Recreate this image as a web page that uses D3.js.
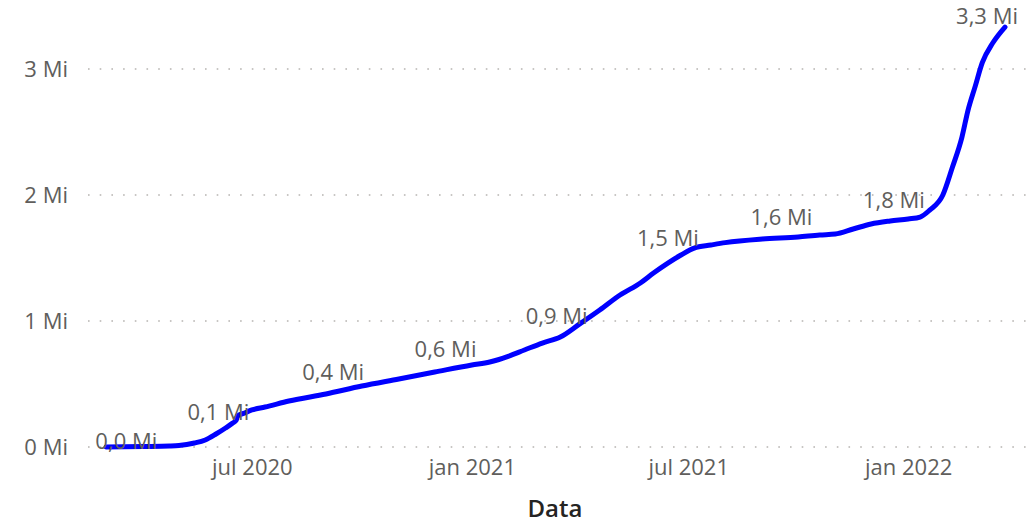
<!DOCTYPE html>
<html lang="pt">
<head>
  <meta charset="UTF-8">
  <title>Acumulado por Data</title>
  <script src="https://cdn.jsdelivr.net/npm/d3@7"></script>
  <style>
    body { margin: 0; background: #fff; }
    text { font-family: 'Segoe UI', 'Open Sans', sans-serif; }
  </style>
</head>
<body>
<div id="grafica"></div>

<script>
// dados (acumulado, em milhões)
const datas = [
  '2020-03-01', '2020-04-01', '2020-04-23', '2020-05-01', '2020-05-14', '2020-05-23',
  '2020-06-01', '2020-06-09', '2020-06-15', '2020-06-18', '2020-06-19', '2020-06-25',
  '2020-07-01', '2020-07-12', '2020-08-01', '2020-09-01', '2020-10-01', '2020-11-01',
  '2020-12-01', '2021-01-01', '2021-01-16', '2021-02-01', '2021-02-14', '2021-03-01',
  '2021-03-16', '2021-04-01', '2021-04-18', '2021-05-05', '2021-05-22', '2021-06-02',
  '2021-06-14', '2021-06-25', '2021-07-06', '2021-07-20', '2021-08-01', '2021-09-01',
  '2021-10-01', '2021-10-19', '2021-11-01', '2021-11-16', '2021-12-01', '2021-12-17',
  '2022-01-01', '2022-01-11', '2022-01-19', '2022-01-30', '2022-02-07', '2022-02-15',
  '2022-02-20', '2022-02-26', '2022-03-04', '2022-03-13', '2022-03-23'
]
const valores = [
  0.000, 0.004, 0.008, 0.012, 0.032, 0.056,
  0.103, 0.151, 0.190, 0.214, 0.246, 0.270,
  0.294, 0.317, 0.365, 0.421, 0.484, 0.540,
  0.595, 0.651, 0.675, 0.722, 0.770, 0.825,
  0.873, 0.975, 1.087, 1.206, 1.302, 1.381,
  1.460, 1.524, 1.579, 1.603, 1.622, 1.651,
  1.667, 1.683, 1.690, 1.730, 1.770, 1.794,
  1.810, 1.825, 1.880, 2.000, 2.220, 2.460,
  2.670, 2.860, 3.050, 3.210, 3.333
]

// rótulos de dados
const rotuloDatas = ['2020-03-18', '2020-06-03', '2020-09-07', '2020-12-10', '2021-03-13',
                     '2021-06-14', '2021-09-17', '2021-12-20', '2022-03-23']
const rotuloValores = [0.00, 0.11, 0.43, 0.61, 0.87, 1.49, 1.66, 1.79, 3.33]
const rotuloTextos = ['0,0 Mi', '0,1 Mi', '0,4 Mi', '0,6 Mi', '0,9 Mi', '1,5 Mi', '1,6 Mi', '1,8 Mi', '3,3 Mi']

// eixos
const yTicks = [0, 1, 2, 3]
const xTicks = ['2020-07-01', '2021-01-01', '2021-07-01', '2022-01-01']
const mesesCurtos = ['jan', 'fev', 'mar', 'abr', 'mai', 'jun', 'jul', 'ago', 'set', 'out', 'nov', 'dez']

const ancho_total = 1031
const alto_total = 525
const cinza = '#605E5C'

const parseData = d3.timeParse('%Y-%m-%d')
const locale = d3.timeFormatLocale({
  dateTime: '%x %X', date: '%d/%m/%Y', time: '%H:%M:%S', periods: ['', ''],
  days: ['domingo', 'segunda', 'terça', 'quarta', 'quinta', 'sexta', 'sábado'],
  shortDays: ['dom', 'seg', 'ter', 'qua', 'qui', 'sex', 'sáb'],
  months: mesesCurtos, shortMonths: mesesCurtos
})
const fmtData = locale.format('%b %Y')

const data = datas.map((d, i) => ({ date: parseData(d), value: valores[i] }))

const svg = d3.select('#grafica')
  .append('svg')
  .attr('width', ancho_total)
  .attr('height', alto_total)

const x = d3.scaleTime()
  .domain([parseData('2020-03-01'), parseData('2022-03-23')])
  .range([106, 1005])
const y = d3.scaleLinear()
  .domain([0, 3.5])
  .range([447, 6])

// grade pontilhada
svg.append('g')
  .selectAll('line')
  .data(yTicks)
  .join('line')
  .attr('x1', 88)
  .attr('x2', 1028)
  .attr('y1', d => y(d))
  .attr('y2', d => y(d))
  .attr('stroke', '#c8c6c4')
  .attr('stroke-width', 2)
  .attr('stroke-dasharray', '1.6,10.1')

// eixo y
const yAxis = svg.append('g')
  .attr('transform', 'translate(72,0)')
  .call(d3.axisLeft(y).tickValues(yTicks).tickSize(0).tickPadding(4).tickFormat(d => d + ' Mi'))
yAxis.select('.domain').remove()
yAxis.selectAll('text')
  .attr('fill', cinza)
  .style('font-size', '22px')

// eixo x
const xAxis = svg.append('g')
  .attr('transform', 'translate(0,452)')
  .call(d3.axisBottom(x).tickValues(xTicks.map(parseData)).tickSize(0).tickPadding(7).tickFormat(fmtData))
xAxis.select('.domain').remove()
xAxis.selectAll('text')
  .attr('fill', cinza)
  .style('font-size', '22px')

// título do eixo x
svg.append('text')
  .attr('x', 555)
  .attr('y', 517)
  .attr('text-anchor', 'middle')
  .attr('fill', '#252423')
  .style('font-size', '24px')
  .style('font-weight', 600)
  .text('Data')

// linha
const linea = d3.line()
  .x(d => x(d.date))
  .y(d => y(d.value))
  .curve(d3.curveMonotoneX)

svg.append('path')
  .attr('fill', 'none')
  .attr('stroke', '#0000ff')
  .attr('stroke-width', 5)
  .attr('stroke-linecap', 'round')
  .attr('stroke-linejoin', 'round')
  .attr('d', linea(data))

// rótulos
const rotulos = svg.append('g')
rotuloDatas.forEach((d, i) => {
  const t = rotulos.append('text')
    .attr('fill', cinza)
    .style('font-size', '22px')
    .attr('text-anchor', 'middle')
    .attr('x', x(parseData(d)))
    .attr('y', i === 0 ? y(rotuloValores[i]) + 2 : Math.max(y(rotuloValores[i]) - 13, 24))
    .text(rotuloTextos[i])
  const w = t.node().getComputedTextLength()
  if (x(parseData(d)) + w / 2 > 1018) {
    t.attr('text-anchor', 'end').attr('x', 1018)
  }
})
</script>
</body>
</html>
